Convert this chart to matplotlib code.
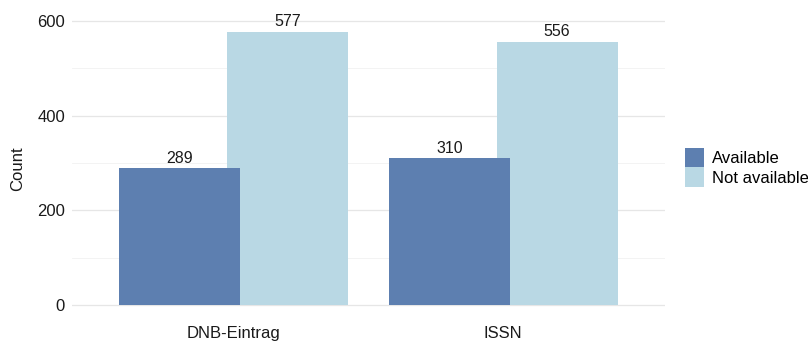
import matplotlib
matplotlib.use("Agg")
import matplotlib.pyplot as plt
import numpy as np
from matplotlib.patches import Patch

categories = ["DNB-Eintrag", "ISSN"]
series_names = ["Available", "Not available"]
available = [289, 310]
not_available = [577, 556]
y_ticks = [0, 200, 400, 600]
y_minor = [100, 300, 500]

colors = {"Available": "#5d7fb0", "Not available": "#b9d8e4"}

plt.rcParams["font.family"] = ["Liberation Sans", "DejaVu Sans"]

fig = plt.figure(figsize=(8.08, 3.43), dpi=100)
ax = fig.add_axes([0.0891, 0.0708, 0.7339, 0.8762])

x = np.arange(1, len(categories) + 1)
bar_w = 0.45
dodge = 0.2

series = {"Available": available, "Not available": not_available}
offsets = {"Available": -dodge, "Not available": dodge}
zorders = {"Available": 3, "Not available": 2}

for name in series_names:
    vals = series[name]
    ax.bar(x + offsets[name], vals, width=bar_w, color=colors[name],
           edgecolor="none", zorder=zorders[name])
    for xi, v in zip(x + offsets[name], vals):
        ax.annotate(str(v), (xi, v), xytext=(0, 4.0), textcoords="offset points",
                    ha="center", va="baseline", fontsize=11.5, color="#1a1a1a",
                    zorder=5)

ax.set_xlim(0.4, len(categories) + 0.6)
ax.set_ylim(-28.85, 605.85)

ax.set_yticks(y_ticks)
ax.set_yticks(y_minor, minor=True)
ax.set_xticks(x)
ax.set_xticklabels(categories)

ax.grid(axis="y", which="major", color="#e6e6e6", linewidth=0.9, zorder=0)
ax.grid(axis="y", which="minor", color="#f1f1f1", linewidth=0.6, zorder=0)
ax.grid(axis="x", visible=False)
ax.set_axisbelow(True)

for s in ax.spines.values():
    s.set_visible(False)
ax.tick_params(axis="both", which="both", length=0, labelsize=12,
               labelcolor="#1a1a1a")
ax.tick_params(axis="y", pad=5)
ax.tick_params(axis="x", pad=5)

ax.set_ylabel("Count", fontsize=12, color="#1a1a1a", labelpad=9)

handles = [Patch(facecolor=colors[n], edgecolor="none", label=n) for n in series_names]
fig.legend(handles=handles, loc="center left", bbox_to_anchor=(0.848, 0.512),
           frameon=False, fontsize=12, handlelength=1.15, handleheight=1.45,
           labelspacing=0.0, handletextpad=0.45, borderpad=0, borderaxespad=0)

fig.savefig("out.png", dpi=100)
